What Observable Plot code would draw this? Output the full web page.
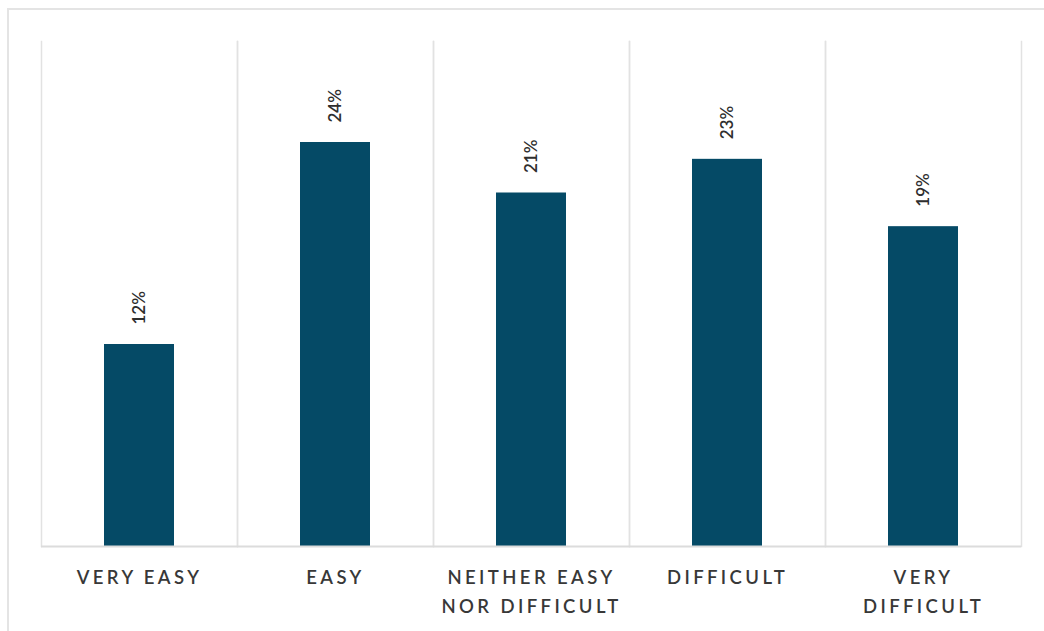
<!DOCTYPE html>
<html>
<head>
<meta charset="utf-8">
<script src="https://cdn.jsdelivr.net/npm/d3@7"></script>
<script src="https://cdn.jsdelivr.net/npm/@observablehq/plot@0.6"></script>
<style>
  html, body { margin: 0; padding: 0; background: #fff; }
  #wrap { position: relative; width: 1044px; height: 631px; overflow: hidden; }
  #border {
    position: absolute; left: 7px; top: 8px; width: 1100px; height: 621px;
    border-left: 2px solid #e4e4e4; border-top: 2px solid #e4e4e4;
    pointer-events: none;
  }
  svg [aria-label="fx-axis tick label"] text { letter-spacing: 3.4px; }
</style>
</head>
<body>
<div id="wrap"><div id="border"></div></div>
<script>
// Share of answers per difficulty level
const categories = ["VERY EASY", "EASY", "NEITHER EASY NOR DIFFICULT", "DIFFICULT", "VERY DIFFICULT"];
const tickLabels = ["VERY EASY", "EASY", "NEITHER EASY\nNOR DIFFICULT", "DIFFICULT", "VERY\nDIFFICULT"];
const values = [12, 24, 21, 23, 19];

const data = categories.map((c, i) => ({category: c, value: values[i]}));
const labelOf = new Map(categories.map((c, i) => [c, tickLabels[i]]));

const chart = Plot.plot({
  width: 1044,
  height: 631,
  marginLeft: 40,
  marginRight: 22,
  marginTop: 41,
  marginBottom: 85,
  style: {fontFamily: "Lato, sans-serif", background: "transparent"},
  fx: {domain: categories, padding: 0, label: null},
  y: {domain: [0, 30], axis: null},
  marks: [
    Plot.frame({anchor: "left", stroke: "#e2e2e2", strokeWidth: 1.5, strokeOpacity: 1}),
    Plot.frame({anchor: "right", stroke: "#e2e2e2", strokeWidth: 1.5, strokeOpacity: 1}),
    Plot.barY(data, {fx: "category", y: "value", fill: "#054a66", insetLeft: 63, insetRight: 63}),
    Plot.ruleY([0], {stroke: "#dcdcdc", strokeWidth: 2}),
    Plot.text(data, {
      fx: "category", y: "value", text: d => `${d.value}%`,
      rotate: -90, textAnchor: "start", dy: -20,
      fontSize: 17, fontWeight: 600, fill: "#2e2e2e"
    }),
    Plot.axisFx({
      anchor: "bottom", tickSize: 0, tickPadding: 17, label: null,
      tickFormat: d => labelOf.get(d), fontSize: 18.5, fontWeight: 600, lineHeight: 1.55,
      fill: "#383838"
    })
  ]
});
document.getElementById("wrap").prepend(chart);
</script>
</body>
</html>
